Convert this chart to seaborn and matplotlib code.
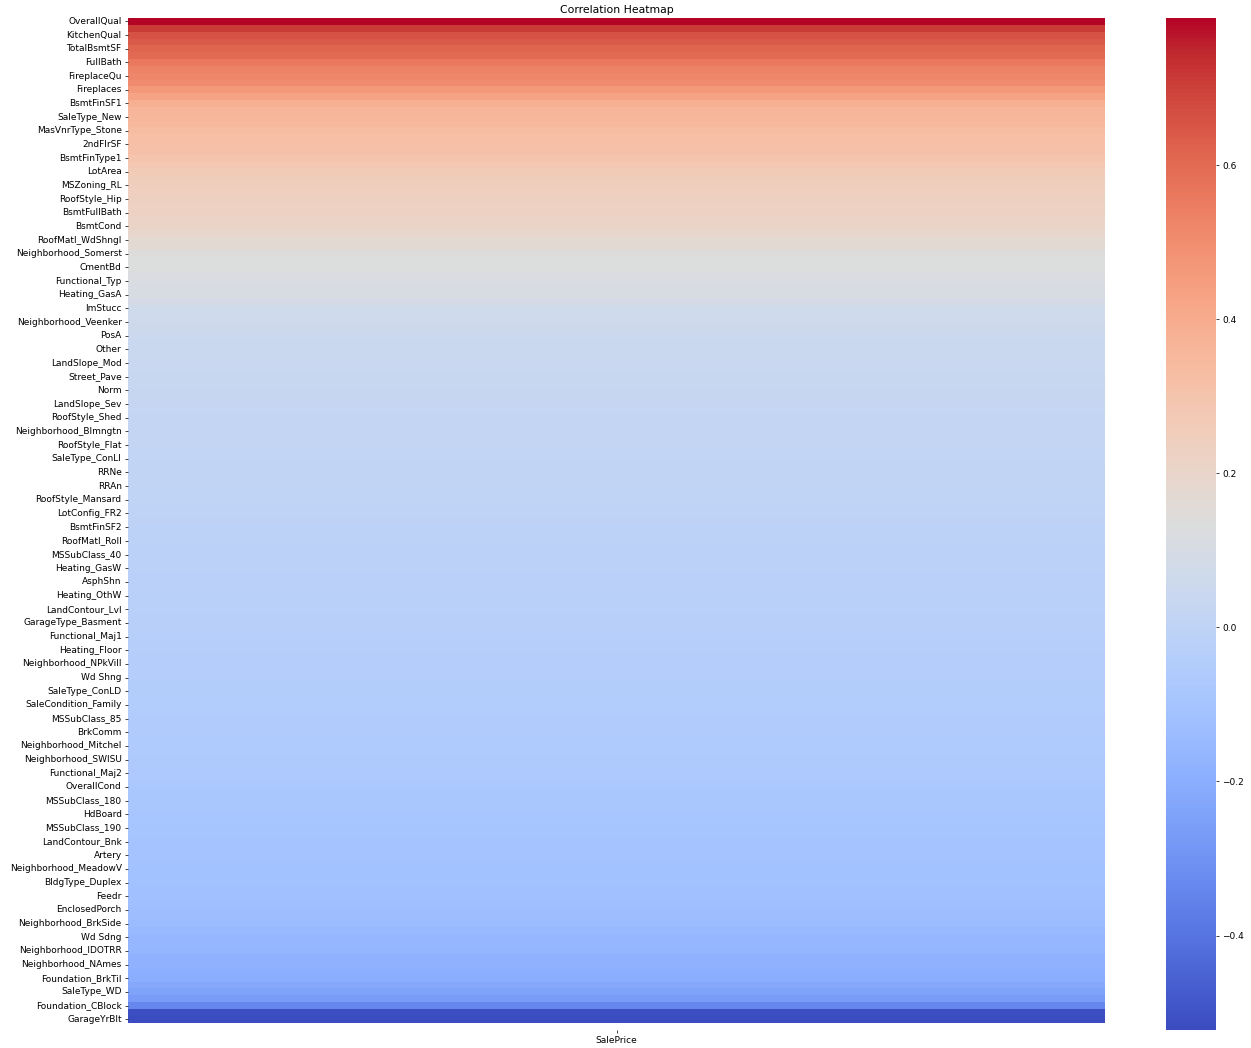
import numpy as np
import pandas as pd
import matplotlib
matplotlib.use("Agg")
import matplotlib.pyplot as plt
import seaborn as sns

# Correlation of each feature with SalePrice (sorted descending, last is NaN)
features = [
    "OverallQual", "GrLivArea", "KitchenQual", "GarageCars", "TotalBsmtSF", "1stFlrSF",
    "FullBath", "TotRmsAbvGrd", "FireplaceQu", "YearRemodAdd", "Fireplaces", "HeatingQC",
    "BsmtFinSF1", "LotFrontage", "SaleType_New", "SaleCondition_Partial", "MasVnrType_Stone", "WoodDeckSF",
    "2ndFlrSF", "OpenPorchSF", "BsmtFinType1", "HalfBath", "LotArea", "CentralAir",
    "MSZoning_RL", "PavedDrive", "RoofStyle_Hip", "Electrical", "BsmtFullBath", "BsmtUnfSF",
    "BsmtCond", "Neighborhood_StoneBr", "RoofMatl_WdShngl", "BedroomAbvGr", "Neighborhood_Somerst", "Neighborhood_Timber",
    "CmentBd", "LotShape", "Functional_Typ", "ScreenPorch", "Heating_GasA", "PoolArea",
    "ImStucc", "Neighborhood_CollgCr", "Neighborhood_Veenker", "Neighborhood_Gilbert", "PosA", "MoSold",
    "Other", "3SsnPorch", "LandSlope_Mod", "PosN", "Street_Pave", "LotConfig_Corner",
    "Norm", "MSSubClass_75", "LandSlope_Sev", "Stone", "RoofStyle_Shed", "MSSubClass_80",
    "Neighborhood_Blmngtn", "RoofMatl_Membran", "RoofStyle_Flat", "Neighborhood_ClearCr", "SaleType_ConLI", "SaleType_CWD",
    "RRNe", "MSSubClass_70", "RRAn", "RoofMatl_Metal", "RoofStyle_Mansard", "SaleType_Con",
    "LotConfig_FR2", "Foundation_Wood", "BsmtFinSF2", "BsmtHalfBath", "RoofMatl_Roll", "MiscVal",
    "MSSubClass_40", "Id", "Heating_GasW", "CBlock", "AsphShn", "YrSold",
    "Heating_OthW", "LowQualFinSF", "LandContour_Lvl", "RoofMatl_CompShg", "GarageType_Basment", "MSSubClass_45",
    "Functional_Maj1", "Functional_Min2", "Heating_Floor", "Functional_Mod", "Neighborhood_NPkVill", "Stucco",
    "Wd Shng", "Neighborhood_Blueste", "SaleType_ConLD", "MSZoning_RH", "SaleCondition_Family", "Functional_Min1",
    "MSSubClass_85", "RRNn", "BrkComm", "SaleType_Oth", "Neighborhood_Mitchel", "LotConfig_Inside",
    "Neighborhood_SWISU", "Neighborhood_NWAmes", "Functional_Maj2", "MSSubClass_160", "OverallCond", "MSSubClass",
    "MSSubClass_180", "BldgType_2fmCon", "HdBoard", "Neighborhood_Sawyer", "MSSubClass_190", "MSZoning_C (all)",
    "LandContour_Bnk", "Neighborhood_Edwards", "Artery", "Neighborhood_BrDale", "Neighborhood_MeadowV", "BldgType_Twnhs",
    "BldgType_Duplex", "MSSubClass_90", "Feedr", "Neighborhood_OldTown", "EnclosedPorch", "KitchenAbvGr",
    "Neighborhood_BrkSide", "GarageType_CarPort", "Wd Sdng", "MetalSd", "Neighborhood_IDOTRR", "RoofStyle_Gable",
    "Neighborhood_NAmes", "MSZoning_RM", "Foundation_BrkTil", "GarageType_Detchd", "SaleType_WD", "MasVnrType_None",
    "Foundation_CBlock", "HouseAge", "GarageYrBlt", "Utilities_NoSeWa",
]

corr_values = [
    0.791, 0.709, 0.660, 0.640, 0.614, 0.606,
    0.561, 0.534, 0.520, 0.507, 0.467, 0.430,
    0.386, 0.365, 0.357, 0.352, 0.330, 0.324,
    0.319, 0.316, 0.300, 0.284, 0.264, 0.251,
    0.245, 0.240, 0.236, 0.230, 0.227, 0.214,
    0.210, 0.195, 0.170, 0.168, 0.140, 0.132,
    0.130, 0.120, 0.115, 0.111, 0.105, 0.092,
    0.072, 0.068, 0.063, 0.055, 0.050, 0.046,
    0.044, 0.043, 0.040, 0.038, 0.036, 0.034,
    0.030, 0.028, 0.025, 0.023, 0.021, 0.020,
    0.019, 0.018, 0.016, 0.015, 0.013, 0.011,
    0.009, 0.007, 0.005, 0.003, 0.002, 0.000,
    -0.003, -0.006, -0.011, -0.013, -0.014, -0.015,
    -0.016, -0.017, -0.018, -0.020, -0.021, -0.023,
    -0.025, -0.026, -0.028, -0.030, -0.031, -0.033,
    -0.035, -0.037, -0.039, -0.040, -0.042, -0.043,
    -0.045, -0.047, -0.049, -0.051, -0.052, -0.054,
    -0.056, -0.058, -0.060, -0.061, -0.063, -0.065,
    -0.067, -0.069, -0.071, -0.075, -0.078, -0.084,
    -0.086, -0.090, -0.093, -0.095, -0.098, -0.100,
    -0.102, -0.104, -0.106, -0.108, -0.112, -0.113,
    -0.115, -0.117, -0.120, -0.125, -0.129, -0.136,
    -0.140, -0.150, -0.158, -0.160, -0.164, -0.180,
    -0.188, -0.190, -0.200, -0.220, -0.240, -0.270,
    -0.340, -0.512, -0.522, np.nan,
]

target = "SalePrice"
title = "Correlation Heatmap"

df = pd.DataFrame({target: corr_values}, index=features)

dpi = 65
fig = plt.figure(figsize=(1251 / dpi, 1048 / dpi), dpi=dpi)
W, H = 1251, 1048
ax = fig.add_axes([128 / W, (H - 1029.5) / H, (1105 - 128) / W, (1029.5 - 18) / H])
cax = fig.add_axes([1165.5 / W, (H - 1029.5) / H, 50.5 / W, (1029.5 - 18) / H])

sns.heatmap(df, cmap="coolwarm", yticklabels=2, ax=ax, cbar_ax=cax)
ax.set_title(title)
plt.setp(ax.get_yticklabels(), rotation=0)
plt.setp(ax.get_xticklabels(), rotation=0)

fig.savefig("out.png", dpi=dpi)
